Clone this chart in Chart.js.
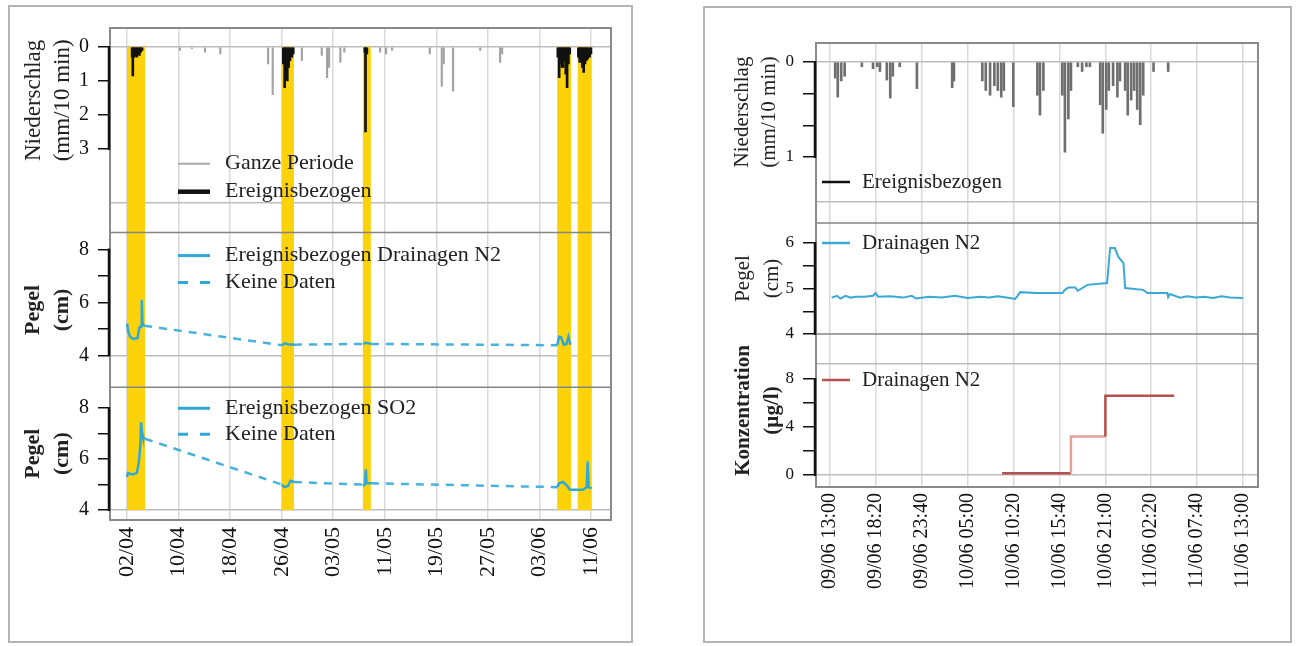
<!DOCTYPE html>
<html lang="de">
<head>
<meta charset="utf-8">
<title>Niederschlag, Pegel und Konzentration</title>
<script src="https://cdn.jsdelivr.net/npm/chart.js@4.4.1/dist/chart.umd.min.js"></script>
<style>
  body { margin: 0; background: #fff; }
  .frame { position: absolute; border: 2px solid #b4b4b4; box-sizing: border-box; background: #fff; }
  #leftFrame { left: 8px; top: 5px; width: 625px; height: 638px; }
  #rightFrame { left: 703px; top: 6px; width: 589px; height: 637px; }
  canvas { display: block; }
</style>
</head>
<body>
<div class="frame" id="leftFrame"><canvas id="periodChart" width="621" height="634"></canvas></div>
<div class="frame" id="rightFrame"><canvas id="eventChart" width="585" height="633"></canvas></div>
<script>
// ---------- left panel: whole period, x = day counted from 1 April ----------
const periodTicks = [2.72, 10.5, 18.28, 26.06, 33.83, 41.61, 49.39, 57.17, 64.94, 72.72];
const periodTickLabels = ['02/04', '10/04', '18/04', '26/04', '03/05', '11/05', '19/05', '27/05', '03/06', '11/06'];

// events (yellow bands)
const eventStart = [2.72, 26.1, 38.3, 67.6, 70.7];
const eventEnd = [5.45, 27.9, 39.5, 69.7, 72.8];

// rain, whole period (grey) and event based (black), mm/10 min
const rainAllDays = [10.7, 12.5, 14.5, 16.8, 24.0, 24.7, 29.1, 32.1, 32.9, 33.2, 34.9, 35.5, 40.9, 41.8, 42.7, 48.4, 50.2, 50.5, 51.9, 56.0, 59.0, 59.3];
const rainAllMm = [0.1, 0.05, 0.15, 0.2, 0.5, 1.4, 0.4, 0.25, 0.9, 0.6, 0.45, 0.15, 0.15, 0.2, 0.1, 0.2, 1.15, 0.5, 1.3, 0.1, 0.45, 0.2];
const rainEventDays = [3.5, 3.6, 3.8, 4.0, 4.2, 4.4, 4.6, 4.8, 5.0,
  26.3, 26.5, 26.7, 26.9, 27.1, 27.3, 27.6, 27.8,
  38.6, 38.7, 38.9,
  67.7, 67.9, 68.1, 68.3, 68.5, 68.7, 68.9, 69.1, 69.3, 69.5,
  70.8, 71.0, 71.2, 71.4, 71.6, 71.8, 72.0, 72.2, 72.5, 72.7];
const rainEventMm = [0.3, 0.85, 0.3, 0.25, 0.3, 0.2, 0.25, 0.15, 0.1,
  0.5, 1.2, 0.8, 1.0, 0.6, 0.4, 0.3, 0.2,
  0.15, 2.5, 0.2,
  0.3, 0.9, 0.5, 0.6, 0.6, 0.4, 0.8, 1.2, 0.5, 0.2,
  0.3, 0.45, 0.4, 0.6, 0.75, 0.5, 0.4, 0.35, 0.3, 0.2];

// Pegel Drainagen N2 (cm), null = break between events
const n2Days = [2.75, 2.9, 3.2, 3.6, 4.3, 4.6, 4.85, 4.95, 5.05, 5.3, 15,
  26.1, 26.5, 27.0, 27.9, 33,
  38.3, 38.8, 39.5, 50,
  67.6, 67.9, 68.2, 68.6, 69.0, 69.3, 69.6];
const n2Level = [5.2, 4.9, 4.7, 4.62, 4.65, 5.05, 5.1, 6.1, 5.2, 5.12, null,
  4.38, 4.45, 4.42, 4.4, null,
  4.43, 4.47, 4.43, null,
  4.38, 4.7, 4.68, 4.4, 4.42, 4.7, 4.4];
const n2GapDays = [5.3, 26.1, 27, 27.9, 38.3, 39, 39.5, 67.6];
const n2GapLevel = [5.12, 4.38, null, 4.4, 4.43, null, 4.43, 4.38];

// Pegel SO2 (cm)
const so2Days = [2.72, 2.87, 3.5, 4.2, 4.5, 4.75, 4.85, 5.0, 5.13, 5.43, 15,
  26.1, 26.4, 27.0, 27.4, 27.9, 33,
  38.3, 38.6, 38.75, 38.85, 39.5, 50,
  67.6, 67.9, 68.5, 69.1, 69.5, 71.5, 72.05, 72.2, 72.35, 72.8];
const so2Level = [5.3, 5.45, 5.4, 5.45, 5.85, 6.6, 7.45, 7.0, 6.85, 6.8, null,
  5.0, 4.9, 4.95, 5.15, 5.1, null,
  4.95, 5.0, 5.6, 5.05, 5.05, null,
  4.9, 5.05, 5.1, 4.95, 4.8, 4.8, 4.9, 5.9, 4.9, 4.85];
const so2GapDays = [5.43, 26.1, 27, 27.9, 38.3, 39, 39.5, 67.6];
const so2GapLevel = [6.8, 5.0, null, 5.1, 5.0, null, 5.05, 4.9];

// ---------- right panel: one event, x = hours from 09/06 00:00 ----------
const eventTicks = [13, 18.33, 23.67, 29, 34.33, 39.67, 45, 50.33, 55.67, 61];
const eventTickLabels = ['09/06 13:00', '09/06 18:20', '09/06 23:40', '10/06 05:00', '10/06 10:20',
  '10/06 15:40', '10/06 21:00', '11/06 02:20', '11/06 07:40', '11/06 13:00'];

const rainHours = [13.6, 13.9, 14.3, 14.7, 16.7, 18.0, 18.5, 18.8, 19.6, 20.0, 20.3, 21.1, 23.1, 27.2, 27.4,
  30.7, 31.1, 31.6, 32.1, 32.5, 32.9, 33.2, 34.3, 37.1, 37.4, 37.8, 40.0, 40.3, 40.7, 41.0,
  41.8, 42.3, 42.8, 43.2, 44.4, 44.7, 45.1, 45.4, 45.9, 46.4, 46.7, 47.3, 47.6, 48.0,
  48.35, 48.7, 49.05, 49.4, 50.6, 52.3];
const rainMm = [0.17, 0.37, 0.2, 0.15, 0.05, 0.07, 0.05, 0.1, 0.19, 0.38, 0.15, 0.05, 0.28, 0.27, 0.2,
  0.2, 0.3, 0.35, 0.25, 0.3, 0.37, 0.3, 0.47, 0.35, 0.56, 0.3, 0.35, 0.95, 0.6, 0.3,
  0.05, 0.1, 0.05, 0.05, 0.45, 0.75, 0.5, 0.3, 0.25, 0.37, 0.2, 0.3, 0.56, 0.4,
  0.3, 0.5, 0.66, 0.35, 0.1, 0.1];

const pegelHours = [13.2, 13.8, 14.2, 14.8, 15.4, 16.0, 17.0, 18.0, 18.3, 18.6, 20.0, 21.5, 22.5, 23.0, 24.5,
  26.0, 27.5, 29.0, 30.5, 31.5, 32.5, 33.5, 34.5, 34.8, 35.1, 37.0, 40.0, 40.3, 40.7, 41.5,
  41.8, 42.9, 45.2, 45.55, 46.1, 46.5, 47.0, 47.1, 47.3, 49.4, 49.9, 52.2, 52.3, 52.5,
  53.7, 54.5, 55.5, 56.5, 57.5, 58.5, 59.5, 61.0];
const pegelLevel = [4.8, 4.84, 4.78, 4.84, 4.8, 4.82, 4.82, 4.84, 4.9, 4.82, 4.83, 4.8, 4.84, 4.78, 4.82,
  4.8, 4.84, 4.79, 4.82, 4.8, 4.83, 4.8, 4.77, 4.84, 4.92, 4.9, 4.9, 4.97, 5.02, 5.02,
  4.95, 5.08, 5.12, 5.89, 5.89, 5.7, 5.58, 5.56, 5.01, 4.97, 4.9, 4.9, 4.81, 4.88,
  4.8, 4.83, 4.8, 4.82, 4.79, 4.83, 4.8, 4.79];

// Konzentration (µg/l), step values
const concHours = [33, 41, 45, 49, 53];
const concValues = [0.15, 0.15, 3.2, 6.6, 6.6];

// axis ticks / labels
const rainTicksL = [0, 1, 2, 3], rainLabelsL = ['0', '1', '2', '3'];
const pegelTicksL = [4, 5, 6, 7, 8], pegelLabelsL = ['4', '', '6', '', '8'];
const rainTicksR = [0, 0.333, 0.667, 1], rainLabelsR = ['0', '', '', '1'];
const pegelTicksR = [4, 4.5, 5, 5.5, 6], pegelLabelsR = ['4', '', '5', '', '6'];
const concTicks = [0, 2, 4, 6, 8], concLabels = ['0', '', '4', '', '8'];
const concGridLines = [0, 9.3];

const legendRainL = ['Ganze Periode', 'Ereignisbezogen'];
const legendN2 = ['Ereignisbezogen Drainagen N2', 'Keine Daten'];
const legendSO2 = ['Ereignisbezogen SO2', 'Keine Daten'];
const legendRainR = ['Ereignisbezogen'];
const legendPegelR = ['Drainagen N2'];
const legendConc = ['Drainagen N2'];

const serif = '"Liberation Serif", "Times New Roman", serif';
const cyan = '#2fa8d8';
const red = '#b3524c';

function xy(xs, ys) {
    return xs.map((x, i) => ({ x: x, y: ys[i] }));
}

// one row of the stacked y axes
function yAxis(o) {
    const tickVals = o.ticks || [];
    const gridVals = o.grid || [];
    const all = tickVals.concat(gridVals.filter(v => tickVals.indexOf(v) < 0));
    return {
        type: 'linear', position: 'left', stack: 'rows', stackWeight: o.weight,
        min: o.min, max: o.max, reverse: !!o.reverse, bounds: 'data',
        afterBuildTicks: s => { s.ticks = all.map(v => ({ value: v })); },
        afterFit: s => { s.width = o.width; },
        ticks: {
            display: tickVals.length > 0, autoSkip: false,
            font: { family: serif, size: o.tickSize }, color: '#111', padding: o.tickPad,
            callback: v => { const i = tickVals.indexOf(v); return i < 0 ? '' : o.labels[i]; }
        },
        grid: {
            drawOnChartArea: true, tickLength: o.tickLen || 0, tickWidth: 1.5, lineWidth: 1.5,
            color: c => (c.tick && gridVals.indexOf(c.tick.value) >= 0) ? '#bdbdbd' : 'rgba(0,0,0,0)',
            tickColor: c => (c.tick && tickVals.indexOf(c.tick.value) >= 0) ? '#111' : 'rgba(0,0,0,0)'
        },
        border: { display: false },
        title: o.title ? {
            display: true, text: o.title, color: '#222',
            font: { family: serif, size: o.titleSize, weight: o.bold ? 'bold' : 'normal', lineHeight: o.titleLine },
            padding: { top: o.titlePad, bottom: 0 }
        } : { display: false }
    };
}

function xAxis(o) {
    return {
        type: 'linear', min: o.min, max: o.max, offset: false, bounds: 'data',
        afterBuildTicks: s => { s.ticks = o.ticks.map(v => ({ value: v })); },
        afterFit: s => { s.height = o.height; },
        ticks: {
            autoSkip: false, maxRotation: 90, minRotation: 90, padding: o.pad,
            font: { family: serif, size: o.size }, color: '#111',
            callback: (v, i) => o.labels[i]
        },
        grid: { color: '#d9d9d9', lineWidth: 1.5, drawTicks: false, offset: false },
        border: { display: false }
    };
}

// bands, frame, separators, R-style axis spines and in-panel legends
const panelDecor = {
    id: 'panelDecor',
    beforeDatasetsDraw(chart, args, opts) {
        const b = opts.bands;
        if (!b) return;
        const ctx = chart.ctx, x = chart.scales.x;
        const yTop = chart.scales[b.topAxis].getPixelForValue(b.topValue);
        const yBot = chart.scales[b.bottomAxis].getPixelForValue(b.bottomValue);
        ctx.save();
        ctx.fillStyle = '#fcd20a';
        b.start.forEach((s, i) => {
            const x0 = x.getPixelForValue(s), x1 = x.getPixelForValue(b.end[i]);
            ctx.fillRect(x0, yTop, x1 - x0, yBot - yTop);
        });
        ctx.restore();
    },
    afterDatasetsDraw(chart, args, opts) {
        const ctx = chart.ctx, area = chart.chartArea;
        ctx.save();
        // separators between rows
        ctx.strokeStyle = '#858585';
        ctx.lineWidth = 1.5;
        (opts.separators || []).forEach(id => {
            const y = chart.scales[id].top;
            ctx.beginPath(); ctx.moveTo(area.left, y); ctx.lineTo(area.right, y); ctx.stroke();
        });
        // box
        ctx.strokeStyle = '#8a8a8a';
        ctx.lineWidth = 2;
        ctx.strokeRect(area.left, area.top, area.right - area.left, area.bottom - area.top);
        // spines over tick range
        ctx.strokeStyle = '#111';
        ctx.lineWidth = 2.5;
        (opts.spines || []).forEach(sp => {
            const s = chart.scales[sp.axis];
            const a = s.getPixelForValue(Math.min(...sp.ticks));
            const b = s.getPixelForValue(Math.max(...sp.ticks));
            ctx.beginPath(); ctx.moveTo(area.left - 1, a + (a > b ? 1 : -1)); ctx.lineTo(area.left - 1, b + (a > b ? -1 : 1)); ctx.stroke();
        });
        // legends
        (opts.legends || []).forEach(lg => {
            let y = chart.scales[lg.axis].top + lg.dy;
            lg.items.forEach(it => {
                ctx.strokeStyle = it.color;
                ctx.lineWidth = it.width;
                ctx.setLineDash(it.dash || []);
                ctx.beginPath(); ctx.moveTo(area.left + lg.x0, y); ctx.lineTo(area.left + lg.x1, y); ctx.stroke();
                ctx.setLineDash([]);
                ctx.fillStyle = '#222';
                ctx.font = lg.size + 'px ' + serif;
                ctx.textBaseline = 'middle';
                ctx.textAlign = 'left';
                ctx.fillText(it.text, area.left + lg.tx, y);
                y += lg.gap;
            });
        });
        ctx.restore();
    }
};

// ---------------- left chart ----------------
new Chart(document.getElementById('periodChart'), {
    type: 'line',
    data: {
        datasets: [
            { type: 'bar', data: xy(rainEventDays, rainEventMm), yAxisID: 'yRain', backgroundColor: '#111', barThickness: 2, grouped: false },
            { type: 'bar', data: xy(rainAllDays, rainAllMm), yAxisID: 'yRain', backgroundColor: '#a3a3a3', barThickness: 1.5, grouped: false },
            { data: xy(n2Days, n2Level), yAxisID: 'yN2', borderColor: cyan, borderWidth: 2.5, pointRadius: 0, tension: 0 },
            { data: xy(n2GapDays, n2GapLevel), yAxisID: 'yN2', borderColor: '#49b2dc', borderWidth: 2.5, borderDash: [8, 7], pointRadius: 0, tension: 0 },
            { data: xy(so2Days, so2Level), yAxisID: 'ySO2', borderColor: cyan, borderWidth: 2.5, pointRadius: 0, tension: 0 },
            { data: xy(so2GapDays, so2GapLevel), yAxisID: 'ySO2', borderColor: '#49b2dc', borderWidth: 2.5, borderDash: [8, 7], pointRadius: 0, tension: 0 }
        ]
    },
    options: {
        responsive: false,
        animation: false,
        layout: { padding: { left: 0, right: 20, top: 20, bottom: 0 } },
        plugins: {
            legend: { display: false },
            tooltip: { enabled: false },
            panelDecor: {
                bands: { start: eventStart, end: eventEnd, topAxis: 'yRain', topValue: 0, bottomAxis: 'ySO2', bottomValue: 4 },
                separators: ['yN2', 'ySO2'],
                spines: [{ axis: 'yRain', ticks: rainTicksL }, { axis: 'yN2', ticks: pegelTicksL }, { axis: 'ySO2', ticks: pegelTicksL }],
                legends: [
                    { axis: 'yFill', dy: -9, gap: 28, x0: 68, x1: 100, tx: 115, size: 22, items: [
                        { text: legendRainL[0], color: '#aaaaaa', width: 2 },
                        { text: legendRainL[1], color: '#111', width: 4.5 }] },
                    { axis: 'yN2', dy: 23, gap: 27, x0: 68, x1: 100, tx: 115, size: 22, items: [
                        { text: legendN2[0], color: cyan, width: 3 },
                        { text: legendN2[1], color: cyan, width: 3, dash: [10, 12] }] },
                    { axis: 'ySO2', dy: 21, gap: 26, x0: 68, x1: 100, tx: 115, size: 22, items: [
                        { text: legendSO2[0], color: cyan, width: 3 },
                        { text: legendSO2[1], color: cyan, width: 3, dash: [10, 12] }] }
                ]
            }
        },
        scales: {
            x: xAxis({ min: 0.16, max: 75.72, ticks: periodTicks, labels: periodTickLabels, height: 121, pad: 7, size: 22 }),
            ySO2: yAxis({ weight: 133, min: 3.61, max: 8.82, ticks: pegelTicksL, labels: pegelLabelsL, grid: [4], width: 100,
                tickSize: 20, tickPad: 9, tickLen: 12, title: ['Pegel', '(cm)'], bold: true, titleSize: 22, titleLine: 1.3, titlePad: 9 }),
            yN2: yAxis({ weight: 155, min: 2.79, max: 8.64, ticks: pegelTicksL, labels: pegelLabelsL, grid: [4], width: 100,
                tickSize: 20, tickPad: 9, tickLen: 12, title: ['Pegel', '(cm)'], bold: true, titleSize: 22, titleLine: 1.3, titlePad: 9 }),
            yFill: yAxis({ weight: 60, min: 0, max: 1, ticks: [], labels: [], grid: [0.5], width: 100 }),
            yRain: yAxis({ weight: 145, min: -0.56, max: 3.7, reverse: true, ticks: rainTicksL, labels: rainLabelsL, grid: [0], width: 100,
                tickSize: 20, tickPad: 9, tickLen: 12, title: ['Niederschlag', '(mm/10 min)'], titleSize: 23, titleLine: 1.26, titlePad: 9 })
        }
    },
    plugins: [panelDecor]
});

// ---------------- right chart ----------------
new Chart(document.getElementById('eventChart'), {
    type: 'line',
    data: {
        datasets: [
            { type: 'bar', data: xy(rainHours, rainMm), yAxisID: 'yRain', backgroundColor: '#6f6f6f', barThickness: 2, grouped: false },
            { data: xy(pegelHours, pegelLevel), yAxisID: 'yPegel', borderColor: '#3aa9d6', borderWidth: 2, pointRadius: 0, tension: 0 },
            { data: xy(concHours, concValues), yAxisID: 'yConc', borderColor: red, borderWidth: 2.5, pointRadius: 0, stepped: 'after',
              segment: { borderColor: c => c.p0DataIndex === 1 ? '#e3a19b' : red } }
        ]
    },
    options: {
        responsive: false,
        animation: false,
        layout: { padding: { left: 0, right: 32, top: 35, bottom: 0 } },
        plugins: {
            legend: { display: false },
            tooltip: { enabled: false },
            panelDecor: {
                separators: ['yPegel', 'yConc'],
                spines: [{ axis: 'yRain', ticks: rainTicksR }, { axis: 'yPegel', ticks: pegelTicksR }, { axis: 'yConc', ticks: concTicks }],
                legends: [
                    { axis: 'yFill', dy: 1, gap: 26, x0: 6, x1: 34, tx: 46, size: 21, items: [
                        { text: legendRainR[0], color: '#111', width: 2.5 }] },
                    { axis: 'yPegel', dy: 20, gap: 26, x0: 6, x1: 34, tx: 46, size: 21, items: [
                        { text: legendPegelR[0], color: '#3aa9d6', width: 2.5 }] },
                    { axis: 'yConc', dy: 46, gap: 26, x0: 6, x1: 34, tx: 46, size: 21, items: [
                        { text: legendConc[0], color: red, width: 2.5 }] }
                ]
            }
        },
        scales: {
            x: xAxis({ min: 11.37, max: 62.74, ticks: eventTicks, labels: eventTickLabels, height: 154, pad: 6, size: 20 }),
            yConc: yAxis({ weight: 153, min: -1, max: 11.75, ticks: concTicks, labels: concLabels, grid: concGridLines, width: 111,
                tickSize: 17, tickPad: 9, tickLen: 13, title: ['Konzentration', '(µg/l)'], bold: true, titleSize: 21, titleLine: 1.38, titlePad: 24 }),
            yPegel: yAxis({ weight: 111, min: 4, max: 6.44, ticks: pegelTicksR, labels: pegelLabelsR, width: 111,
                tickSize: 17, tickPad: 9, tickLen: 13, title: ['Pegel', '(cm)'], titleSize: 21, titleLine: 1.38, titlePad: 24 }),
            yFill: yAxis({ weight: 42, min: 0, max: 1, ticks: [], labels: [], grid: [0.5], width: 111 }),
            yRain: yAxis({ weight: 138, min: -0.2, max: 1.253, reverse: true, ticks: rainTicksR, labels: rainLabelsR, grid: [0], width: 111,
                tickSize: 17, tickPad: 9, tickLen: 13, title: ['Niederschlag', '(mm/10 min)'], titleSize: 21, titleLine: 1.3, titlePad: 24 })
        }
    },
    plugins: [panelDecor]
});
</script>
</body>
</html>
